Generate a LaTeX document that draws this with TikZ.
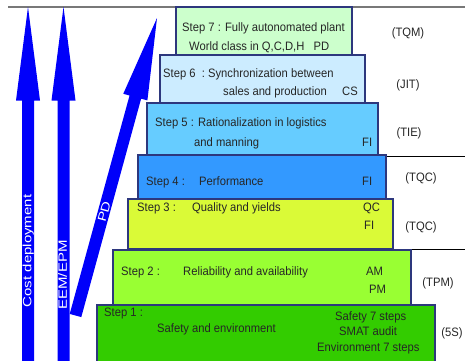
\documentclass[tikz,border=0pt]{standalone}
\usepackage{fontspec}
\setmainfont{Liberation Sans}
\newfontfamily\narrowf[FakeStretch=0.92]{Liberation Sans}
\newfontfamily\tallf[FakeStretch=1.25]{Liberation Sans}
\usetikzlibrary{calc}
\definecolor{cseven}{RGB}{204,255,204}
\definecolor{csix}{RGB}{204,236,255}
\definecolor{cfive}{RGB}{102,204,255}
\definecolor{cfour}{RGB}{51,153,255}
\definecolor{cthree}{RGB}{218,250,55}
\definecolor{ctwo}{RGB}{153,255,51}
\definecolor{cone}{RGB}{51,204,0}
\definecolor{boxborder}{RGB}{45,55,125}
\definecolor{arrowblue}{RGB}{0,0,250}
\definecolor{topgray}{RGB}{120,120,120}
\begin{document}
\begin{tikzpicture}[x=1pt,y=-1pt,
  stepbox/.style={draw=boxborder, line width=1.2pt, inner sep=0pt},
  txt/.style={inner sep=0pt, anchor=west, text=black!85,
    font=\narrowf\fontsize{12.2}{14}\selectfont, text height=9pt, text depth=2.5pt},
  lbl/.style={inner sep=0pt, text=black!85,
    font=\narrowf\fontsize{12.2}{14}\selectfont, text height=9pt, text depth=2.5pt},
  arrowtxt/.style={inner sep=0pt, text=white,
    font=\tallf\fontsize{12}{14}\selectfont, text height=9pt, text depth=2.5pt},
  bigarrow/.style={fill=arrowblue},
  sideline/.style={draw=black, line width=0.8pt}]
\useasboundingbox (0,0) rectangle (465,360);

% top gray line
\coordinate (tl) at (8,6.5);
\coordinate (tr) at (465,6.5);
\draw[topgray, line width=2pt] (tl) -- (tr);

% vertical arrows
\fill[bigarrow] (22,362) -- (22,100.5) -- (16,100.5) -- (28,7) -- (40,100.5) -- (34,100.5) -- (34,362) -- cycle;
\fill[bigarrow] (57.5,362) -- (57.5,100.5) -- (51.5,100.5) -- (63.5,7) -- (75.5,100.5) -- (69.5,100.5) -- (69.5,362) -- cycle;

% diagonal PD arrow
\coordinate (pb) at (75.5,315.5);
\coordinate (pt) at (157,18);
\coordinate (ph) at ($(pt)!82pt!(pb)$);
\fill[bigarrow] ($(pb)!6pt!90:(pt)$) -- ($(ph)!6pt!-90:(pb)$) -- ($(ph)!12.5pt!-90:(pb)$)
  -- (pt) -- ($(ph)!12.5pt!90:(pb)$) -- ($(ph)!6pt!90:(pb)$) -- ($(pb)!6pt!-90:(pt)$) -- cycle;

\node[arrowtxt, rotate=90] (lcost) at (28,251) {Cost deployment};
\node[arrowtxt, rotate=90] (leem) at (63.5,275) {EEM/EPM};
\node[arrowtxt, rotate=74.7] (lpd) at (105,212) {PD};

% side lines
\coordinate (l1a) at (378,156);
\coordinate (l1b) at (465,156);
\coordinate (l2a) at (393,249);
\coordinate (l2b) at (465,249);
\draw[sideline] (l1a) -- (l1b);
\draw[sideline] (l2a) -- (l2b);

% step boxes
\node[stepbox, fill=cone, minimum width=338pt, minimum height=57pt] (s1) at (266,333.5) {};
\node[stepbox, fill=ctwo, minimum width=298pt, minimum height=55pt] (s2) at (262,277.5) {};
\node[stepbox, fill=cthree, minimum width=265pt, minimum height=50pt] (s3) at (260.5,224) {};
\node[stepbox, fill=cfour, minimum width=248pt, minimum height=44pt] (s4) at (262,177) {};
\node[stepbox, fill=cfive, minimum width=231pt, minimum height=52pt] (s5) at (262.5,129) {};
\node[stepbox, fill=csix, minimum width=205pt, minimum height=48pt] (s6) at (262.5,79) {};
\node[stepbox, fill=cseven, minimum width=176pt, minimum height=48pt] (s7) at (264,31) {};

% step 7
\node[txt] (t7a) at (182,28) {Step 7 : Fully autonomated plant};
\node[txt] (t7b) at (189,47) {World class in Q,C,D,H\ \ \ PD};
% step 6
\node[txt] (t6a) at (163,74) {Step 6\ \ :\ Synchronization between};
\node[txt] (t6b) at (223,92) {sales and production};
\node[txt] (t6c) at (342,92) {CS};
% step 5
\node[txt] (t5a) at (155,123) {Step 5 : Rationalization in logistics};
\node[txt] (t5b) at (194,143) {and manning};
\node[txt] (t5c) at (362,143) {FI};
% step 4
\node[txt] (t4a) at (146,182) {Step 4 :};
\node[txt] (t4b) at (199,182) {Performance};
\node[txt] (t4c) at (362,182) {FI};
% step 3
\node[txt] (t3a) at (137,208) {Step 3 :};
\node[txt] (t3b) at (192,208) {Quality and yields};
\node[txt] (t3c) at (363,208) {QC};
\node[txt] (t3d) at (364,226) {FI};
% step 2
\node[txt] (t2a) at (121,272) {Step 2 :};
\node[txt] (t2b) at (183,272) {Reliability and availability};
\node[txt] (t2c) at (366,272) {AM};
\node[txt] (t2d) at (369,290) {PM};
% step 1
\node[txt] (t1a) at (104,313) {Step 1 :};
\node[txt] (t1b) at (157,329) {Safety and environment};
\node[txt] (t1c) at (335,317) {Safety 7 steps};
\node[txt] (t1d) at (339,332) {SMAT audit};
\node[txt] (t1e) at (317,348) {Environment 7 steps};

% right labels
\node[lbl] (r7) at (408,33) {(TQM)};
\node[lbl] (r6) at (408,85) {(JIT)};
\node[lbl] (r5) at (409,133) {(TIE)};
\node[lbl] (r4) at (421,178) {(TQC)};
\node[lbl] (r3) at (421,227) {(TQC)};
\node[lbl] (r2) at (438,283) {(TPM)};
\node[lbl] (r1) at (452,333) {(5S)};
\end{tikzpicture}
\end{document}
